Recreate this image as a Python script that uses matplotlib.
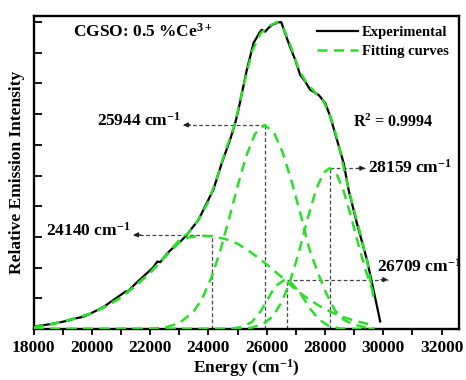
import matplotlib
matplotlib.use('Agg')
import matplotlib.pyplot as plt
from matplotlib.ticker import MultipleLocator

plt.rcParams['font.family'] = ['Liberation Serif', 'DejaVu Serif']
plt.rcParams['font.weight'] = 'bold'
plt.rcParams['mathtext.fontset'] = 'custom'
plt.rcParams['mathtext.rm'] = 'Liberation Serif:bold'
plt.rcParams['mathtext.default'] = 'rm'

exp_energy = [18050, 18500, 18910, 19200, 19400, 19700, 19940, 20400, 20910, 21150,
              21250, 21500, 21890, 22100, 22250, 22350, 22570, 22900, 23050, 23260,
              23660, 24170, 24460, 24745, 24920, 25030, 25320, 25550, 25750, 25830,
              25950, 26050, 26180, 26400, 26500, 26630, 26800, 26980, 27150, 27320,
              27490, 27780, 28010, 28180, 28410, 28640, 28810, 29095, 29440, 29665,
              29895]
exp_intensity = [0.09, 0.15, 0.22, 0.28, 0.34, 0.40, 0.50, 0.72, 1.06, 1.22,
                 1.24, 1.48, 1.82, 2.00, 2.20, 2.18, 2.45, 2.75, 2.86, 3.07,
                 3.56, 4.54, 5.41, 6.17, 6.71, 7.14, 8.45, 9.32, 9.65, 9.75,
                 9.69, 9.80, 9.91, 9.99, 10.0, 9.64, 9.20, 8.77, 8.28, 8.07,
                 7.80, 7.63, 7.36, 6.93, 6.17, 5.41, 4.54, 3.45, 2.26, 1.28,
                 0.25]

# total fit
fit_energy = [18000, 18500, 19000, 19500, 20000, 20500, 21000, 21500, 22000, 22500,
              23000, 23300, 23650, 24000, 24300, 24600, 24900, 25200, 25500, 25800,
              26100, 26350, 26600, 26850, 27100, 27350, 27650, 27950, 28200, 28450,
              28700, 28950, 29200, 29450, 29665]
fit_intensity = [0.06, 0.14, 0.24, 0.37, 0.52, 0.75, 1.03, 1.42, 1.84, 2.36,
                 2.90, 3.12, 3.55, 4.15, 4.95, 5.85, 6.65, 7.90, 9.05, 9.65,
                 9.88, 10.0, 9.75, 9.15, 8.45, 8.05, 7.72, 7.42, 6.90, 6.10,
                 5.00, 4.05, 3.15, 2.20, 1.05]

# fitted components
c1_energy = [18000, 18500, 19000, 19500, 20000, 20500, 21000, 21500, 22000, 22500,
             23000, 23300, 23700, 24140, 24600, 25000, 25400, 25800, 26200, 26600,
             27000, 27400, 27800, 28200, 28600, 29000, 29400, 29700]
c1_intensity = [0.06, 0.14, 0.24, 0.37, 0.52, 0.75, 1.03, 1.41, 1.83, 2.34,
                2.82, 2.98, 3.04, 3.02, 2.93, 2.78, 2.54, 2.26, 1.95, 1.62,
                1.28, 1.00, 0.76, 0.56, 0.40, 0.28, 0.18, 0.13]

c2_energy = [18000, 22000, 22500, 23000, 23500, 23800, 24100, 24400, 24700, 25000,
             25300, 25600, 25930, 26250, 26550, 26850, 27150, 27450, 27750, 28050,
             28350, 28650, 29000, 29400, 29700]
c2_intensity = [0.0, 0.01, 0.05, 0.19, 0.58, 1.02, 1.67, 2.53, 3.56, 4.65,
                5.64, 6.36, 6.65, 6.40, 5.75, 4.83, 3.79, 2.65, 1.85, 1.15,
                0.60, 0.30, 0.15, 0.05, 0.02]

c3_energy = [18000, 25000, 25500, 25900, 26200, 26500, 26800, 27100, 27400, 27700,
             27950, 28160, 28400, 28650, 28900, 29150, 29400, 29650]
c3_intensity = [0.0, 0.0, 0.05, 0.18, 0.41, 0.85, 1.54, 2.49, 3.58, 4.56,
                5.09, 5.24, 5.05, 4.47, 3.65, 2.74, 1.90, 1.21]

c4_energy = [18000, 24800, 25200, 25500, 25800, 26050, 26300, 26650, 26900, 27200,
             27500, 27800, 28100, 28500, 29000, 29700]
c4_intensity = [0.0, 0.01, 0.08, 0.24, 0.59, 1.00, 1.40, 1.63, 1.45, 1.10,
                0.65, 0.31, 0.12, 0.02, 0.0, 0.0]

components = [(c1_energy, c1_intensity), (c2_energy, c2_intensity),
              (c3_energy, c3_intensity), (c4_energy, c4_intensity)]

# peak markers: centre, height, label side
peak_centers = [24140, 25944, 28159, 26709]
peak_heights = [3.07, 6.65, 5.24, 1.61]
peak_arrow_ends = [21420, 23130, 29380, 30170]
peak_label_pos = [(21320, 3.2), (23040, 6.78), (29480, 5.25), (29790, 2.03)]

green = '#27e027'

fig = plt.figure(figsize=(4.66, 3.8), dpi=100)
ax = fig.add_axes([0.072, 0.134, 0.913, 0.824])

ax.plot(exp_energy, exp_intensity, color='black', lw=1.6, label='Experimental', zorder=3)
ax.plot(fit_energy, fit_intensity, color=green, lw=1.8, dashes=(4, 2.6),
        label='Fitting curves', zorder=4)
for e, i in components:
    ax.plot(e, i, color=green, lw=1.8, dashes=(4, 2.6), zorder=4)

for c, h, end, (tx, ty) in zip(peak_centers, peak_heights, peak_arrow_ends, peak_label_pos):
    ax.plot([c, c], [0, h], color='#444444', lw=0.9, dashes=(3, 2), zorder=2)
    ax.plot([c, end], [h, h], color='#444444', lw=0.9, dashes=(3, 2), zorder=2)
    d = -1 if end < c else 1
    ax.annotate('', xy=(end, h), xytext=(end - d * 250, h),
                arrowprops=dict(arrowstyle='-|>', color='#222222', lw=0.9,
                                mutation_scale=7, shrinkA=0, shrinkB=0))
    ha = 'right' if end < c else 'left'
    ax.text(tx, ty, '%d cm$^{-1}$' % c, ha=ha, va='center', fontsize=12.5,
            fontweight='bold')

ax.text(19356, 9.68, 'CGSO: 0.5 %Ce$^{3+}$', ha='left', va='center', fontsize=12.5,
        fontweight='bold')
ax.text(28970, 6.75, 'R$^{2}$ = 0.9994', ha='left', va='center', fontsize=11.5,
        fontweight='bold')

ax.set_xlim(18000, 32600)
ax.set_ylim(0, 10.2)
ax.xaxis.set_major_locator(MultipleLocator(2000))
ax.xaxis.set_minor_locator(MultipleLocator(1000))
ax.yaxis.set_major_locator(MultipleLocator(1))
ax.set_yticklabels([])
ax.tick_params(axis='x', which='both', direction='out', length=4, width=1.3,
               labelsize=12.5, pad=4)
ax.tick_params(axis='y', which='major', direction='in', length=6, width=1.3)
for lab in ax.get_xticklabels():
    lab.set_fontweight('bold')
for s in ax.spines.values():
    s.set_linewidth(1.7)

ax.set_xlabel('Energy (cm$^{-1}$)', fontsize=12.5, fontweight='bold', labelpad=1)
ax.set_ylabel('Relative Emission Intensity', fontsize=12.5, fontweight='bold', labelpad=3)

leg = ax.legend(loc='upper right', frameon=False, fontsize=10.5, handlelength=2.8,
                borderaxespad=0.3, labelspacing=0.4, handletextpad=0.3)
for t in leg.get_texts():
    t.set_fontweight('bold')

fig.savefig('out.png', dpi=100)
